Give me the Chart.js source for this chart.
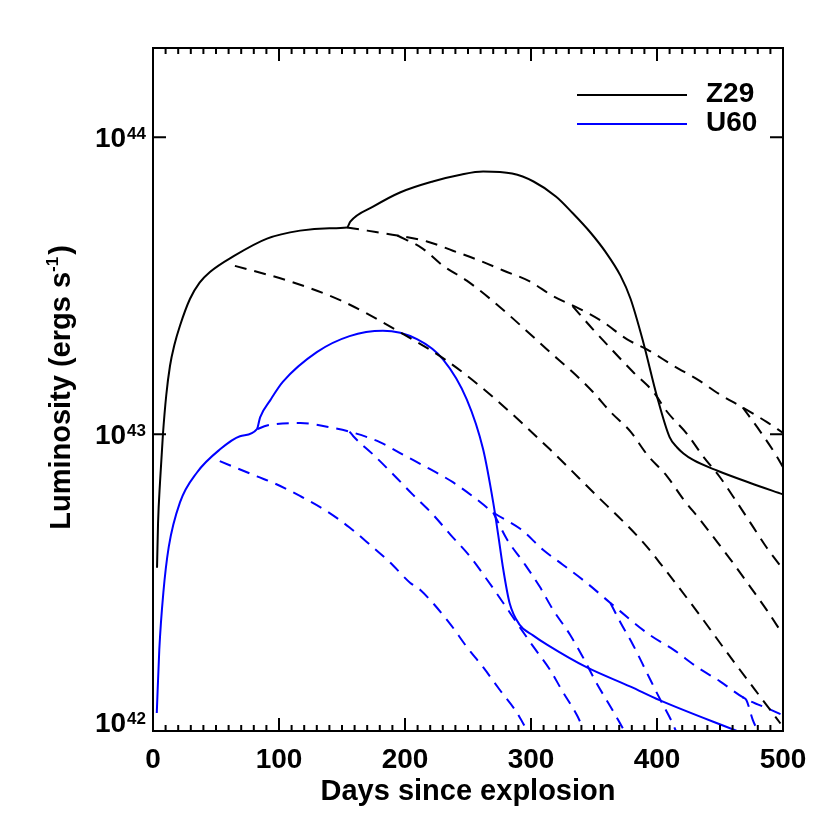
<!DOCTYPE html>
<html>
<head>
<meta charset="utf-8">
<script src="https://cdn.jsdelivr.net/npm/chart.js@4.4.1/dist/chart.umd.min.js"></script>
<style>
  body { margin: 0; background: #fff; }
  #wrap { width: 830px; height: 830px; }
</style>
</head>
<body>
<div id="wrap"><canvas id="myChart" width="830" height="830"></canvas></div>
<script>
// time in days since explosion, luminosity in units of 1e42 erg/s

// Z29 total light curve
const z29Days = [3.2, 4, 5.6, 7.9, 10.5, 13.5, 17, 21.4, 29.4, 37, 45.2, 64, 90.5, 116.7, 140, 154, 156.6, 175, 196, 222, 245, 262, 285, 302, 320, 333, 347, 359, 371, 379, 389, 400, 410, 416, 421, 429, 448, 474, 500];
const z29Lum  = [3.55, 5.01, 6.92, 10.0, 13.5, 17.0, 20.0, 23.2, 28.6, 32.4, 35.2, 39.8, 45.6, 48.5, 49.4, 49.7, 52.0, 58.5, 65.2, 71.0, 75.0, 76.7, 75.5, 71.0, 63.1, 55.6, 47.9, 41.2, 34.2, 28.6, 20.5, 13.4, 9.77, 9.02, 8.61, 8.17, 7.53, 6.85, 6.27];

// Z29 components (dashed)
const z29aDays = [154, 170, 194, 217.5, 238, 259.5, 278, 299, 317.5, 339, 357, 376, 394, 413, 432, 450, 468, 487, 500];
const z29aLum  = [49.7, 48.5, 46.7, 44.6, 41.5, 38.4, 35.6, 32.7, 29.2, 26.4, 23.9, 20.9, 19.1, 17.0, 15.3, 13.6, 12.3, 11.0, 10.1];
const z29bDays = [194, 214, 230, 249, 267.5, 283, 299, 315, 333, 349, 363, 379, 392, 408, 421, 434, 448, 460, 474, 487, 500];
const z29bLum  = [46.7, 42.2, 37.0, 32.9, 28.6, 25.1, 21.8, 18.9, 16.2, 13.9, 11.9, 10.2, 8.55, 7.21, 6.03, 5.16, 4.32, 3.70, 3.06, 2.56, 2.11];
const z29cDays = [333, 349, 365, 381, 397, 408, 424, 436.5, 450, 463.5, 476, 487, 500];
const z29cLum  = [27.0, 22.6, 19.1, 16.2, 13.9, 11.9, 10.0, 8.43, 7.16, 5.89, 4.89, 4.15, 3.51];
const z29eDays = [468, 482, 495, 500];
const z29eLum  = [12.3, 10.2, 8.43, 7.74];
const z29dDays = [65, 109, 150, 194, 233, 267.5, 315, 347, 389, 405, 432, 458, 484, 498];
const z29dLum  = [36.9, 32.7, 28.1, 22.3, 17.7, 13.6, 8.89, 6.52, 4.32, 3.56, 2.52, 1.78, 1.27, 1.06];

// U60 total light curve
const u60Days = [3, 5, 8.2, 12.5, 21.4, 34.9, 53.2, 69, 82.5, 85, 93, 103, 130, 156, 182.5, 209.5, 230, 249, 262, 270, 274, 278, 283, 291, 301.6, 313, 344, 379, 402, 466];
const u60Lum  = [1.15, 1.88, 2.92, 4.17, 5.89, 7.43, 8.89, 9.84, 10.4, 11.4, 13.0, 15.0, 18.9, 21.4, 22.3, 20.9, 17.9, 13.1, 8.89, 5.89, 4.57, 3.50, 2.70, 2.28, 2.10, 1.95, 1.64, 1.41, 1.27, 0.99];

// U60 components (dashed)
const u60aDays = [83, 90.5, 117, 138, 156, 180, 198, 220, 238, 257, 270, 292, 309.5, 325, 344, 363, 394, 413, 432, 450, 468, 490, 500];
const u60aLum  = [10.4, 10.7, 10.9, 10.6, 10.2, 9.40, 8.55, 7.62, 6.89, 6.03, 5.45, 4.78, 4.08, 3.64, 3.16, 2.70, 2.11, 1.88, 1.64, 1.47, 1.30, 1.18, 1.13];
const u60bDays = [156, 159, 174.6, 190.5, 206, 222, 236, 251.6, 265, 278, 291, 302, 315, 325, 336.5, 341];
const u60bLum  = [10.2, 9.84, 8.55, 7.33, 6.27, 5.37, 4.59, 3.87, 3.24, 2.70, 2.24, 1.92, 1.61, 1.36, 1.13, 1.03];
const u60cDays = [270, 281, 294, 307, 317.5, 331, 341, 352, 363, 373];
const u60cLum  = [5.45, 4.42, 3.70, 3.06, 2.56, 2.11, 1.78, 1.45, 1.21, 1.02];
const u60dDays = [363, 371, 381, 392, 402, 412, 415];
const u60dLum  = [2.70, 2.32, 1.95, 1.57, 1.29, 1.07, 1.0];
const u60eDays = [468, 471, 476, 479];
const u60eLum  = [1.30, 1.27, 1.09, 1.02];
const u60fDays = [53, 82.5, 98, 117, 138, 156, 172, 188, 204, 212, 235, 249, 262, 275, 289, 297.6];
const u60fLum  = [8.11, 7.21, 6.78, 6.18, 5.50, 4.85, 4.25, 3.70, 3.16, 2.99, 2.32, 1.92, 1.64, 1.38, 1.15, 0.99];

// axis ticks
const xMajor = [0, 100, 200, 300, 400, 500];
const yMajor = [1, 10, 100];
const yExp = ['42', '43', '44'];
const legendNames = ['Z29', 'U60'];

const BLUE = '#0000ff';
const FONT = "'Liberation Sans', Arial, sans-serif";

function pts(days, lum) {
  return days.map((d, i) => ({ x: d, y: lum[i] }));
}
function ds(days, lum, color, dashed) {
  return {
    data: pts(days, lum),
    borderColor: color,
    borderWidth: 2,
    borderDash: dashed ? [12, 8] : [],
    pointRadius: 0,
    cubicInterpolationMode: 'monotone',
    fill: false
  };
}

const framePlugin = {
  id: 'frame',
  afterDraw(chart) {
    const ctx = chart.ctx;
    const a = chart.chartArea;
    const xs = chart.scales.x, ys = chart.scales.y;
    ctx.save();
    ctx.strokeStyle = '#000';
    ctx.fillStyle = '#000';
    ctx.lineWidth = 2;
    ctx.setLineDash([]);
    ctx.strokeRect(a.left, a.top, a.right - a.left, a.bottom - a.top);

    // x ticks, bottom and top
    ctx.beginPath();
    for (let d = 0; d <= 500; d += 10) {
      const px = xs.getPixelForValue(d);
      const len = d % 100 === 0 ? 13 : 6;
      ctx.moveTo(px, a.bottom); ctx.lineTo(px, a.bottom - len);
      ctx.moveTo(px, a.top); ctx.lineTo(px, a.top + len);
    }
    // y ticks, left and right
    yMajor.forEach(v => {
      const py = ys.getPixelForValue(v);
      ctx.moveTo(a.left, py); ctx.lineTo(a.left + 13, py);
      ctx.moveTo(a.right, py); ctx.lineTo(a.right - 13, py);
    });
    ctx.stroke();

    // x tick labels
    ctx.font = 'bold 28px ' + FONT;
    ctx.textAlign = 'center';
    ctx.textBaseline = 'alphabetic';
    xMajor.forEach(v => {
      ctx.fillText(String(v), xs.getPixelForValue(v), 768);
    });

    // y tick labels with superscript exponent
    yMajor.forEach((v, i) => {
      const py = ys.getPixelForValue(v);
      const base = i === 0 ? py + 1 : py + 10;
      ctx.font = 'bold 17px ' + FONT;
      const sw = ctx.measureText(yExp[i]).width;
      ctx.font = 'bold 28px ' + FONT;
      const bw = ctx.measureText('10').width;
      const xEnd = a.left - 7;
      ctx.textAlign = 'left';
      ctx.fillText('10', xEnd - sw - bw - 1, base);
      ctx.font = 'bold 17px ' + FONT;
      ctx.fillText(yExp[i], xEnd - sw, base - 8);
    });

    // x title
    ctx.font = 'bold 29px ' + FONT;
    ctx.textAlign = 'center';
    ctx.fillText('Days since explosion', (a.left + a.right) / 2, 800);

    // y title, rotated, with superscript
    ctx.save();
    ctx.translate(70, (a.top + a.bottom) / 2 - 2);
    ctx.rotate(-Math.PI / 2);
    const t1 = 'Luminosity (ergs s', t2 = '-1', t3 = ')';
    ctx.font = 'bold 29px ' + FONT;
    const w1 = ctx.measureText(t1).width, w3 = ctx.measureText(t3).width;
    ctx.font = 'bold 17px ' + FONT;
    const w2 = ctx.measureText(t2).width;
    let x0 = -(w1 + w2 + w3 + 2) / 2;
    ctx.textAlign = 'left';
    ctx.font = 'bold 29px ' + FONT;
    ctx.fillText(t1, x0, 0);
    ctx.font = 'bold 17px ' + FONT;
    ctx.fillText(t2, x0 + w1, -12);
    ctx.font = 'bold 29px ' + FONT;
    ctx.fillText(t3, x0 + w1 + w2 + 2, 0);
    ctx.restore();

    // legend
    const legColors = ['#000', BLUE];
    const legY = [95, 124];
    legendNames.forEach((name, i) => {
      ctx.strokeStyle = legColors[i];
      ctx.lineWidth = 2;
      ctx.beginPath();
      ctx.moveTo(577, legY[i]); ctx.lineTo(687, legY[i]);
      ctx.stroke();
      ctx.fillStyle = '#000';
      ctx.font = 'bold 28px ' + FONT;
      ctx.textAlign = 'left';
      ctx.fillText(name, 706, legY[i] + 7);
    });
    ctx.restore();
  }
};

const ctx = document.getElementById('myChart').getContext('2d');

var graphData = {
  type: 'line',
  data: {
    datasets: [
      ds(z29dDays, z29dLum, '#000', true),
      ds(z29aDays, z29aLum, '#000', true),
      ds(z29bDays, z29bLum, '#000', true),
      ds(z29cDays, z29cLum, '#000', true),
      ds(z29eDays, z29eLum, '#000', true),
      ds(u60fDays, u60fLum, BLUE, true),
      ds(u60aDays, u60aLum, BLUE, true),
      ds(u60bDays, u60bLum, BLUE, true),
      ds(u60cDays, u60cLum, BLUE, true),
      ds(u60dDays, u60dLum, BLUE, true),
      ds(u60eDays, u60eLum, BLUE, true),
      ds(z29Days, z29Lum, '#000', false),
      ds(u60Days, u60Lum, BLUE, false)
    ]
  },
  options: {
    responsive: false,
    animation: false,
    layout: { padding: { left: 153, right: 47, top: 48, bottom: 99 } },
    plugins: { legend: { display: false }, tooltip: { enabled: false } },
    scales: {
      x: { type: 'linear', min: 0, max: 500, display: false },
      y: { type: 'logarithmic', min: 1, max: 200, display: false }
    }
  },
  plugins: [framePlugin]
};

var myChart = new Chart(ctx, graphData);
</script>
</body>
</html>
